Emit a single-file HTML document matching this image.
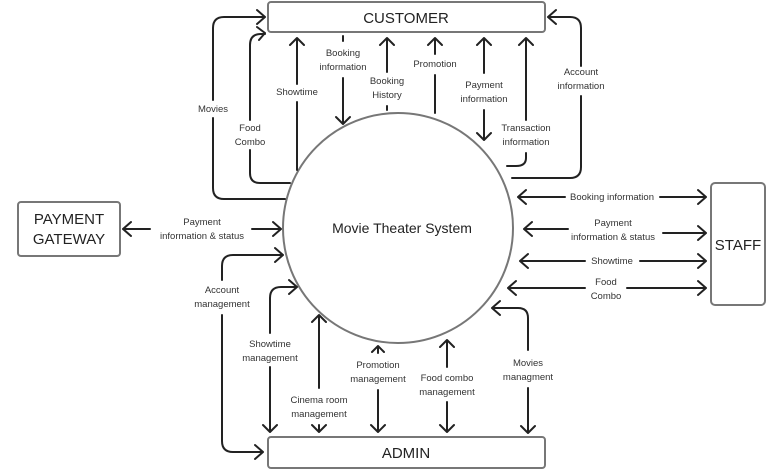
<!DOCTYPE html>
<html><head><meta charset="utf-8"><style>
html,body{margin:0;padding:0;background:#fff;}
svg{display:block;}
text{font-family:"Liberation Sans",sans-serif;fill:#333;}
.l{font-size:9.5px;text-anchor:middle;}
.t{font-size:15px;text-anchor:middle;fill:#222;}
.c{fill:none;stroke:#222;stroke-width:2;stroke-linecap:round;stroke-linejoin:round;}
.b{fill:#fff;stroke:#777;stroke-width:2;}
</style></head><body>
<svg width="772" height="473" viewBox="0 0 772 473">
<circle cx="398" cy="228" r="115" fill="none" stroke="#777" stroke-width="2"/>
<rect class="b" x="268" y="2" width="277" height="30" rx="3"/>
<text class="t" x="406" y="23">CUSTOMER</text>
<rect class="b" x="268" y="437" width="277" height="31" rx="3"/>
<text class="t" x="406" y="458">ADMIN</text>
<rect class="b" x="711" y="183" width="54" height="122" rx="4"/>
<text class="t" x="738" y="250">STAFF</text>
<rect class="b" x="18" y="202" width="102" height="54" rx="3"/>
<text class="t" x="69" y="224">PAYMENT</text>
<text class="t" x="69" y="244">GATEWAY</text>

<!-- top -->
<path class="c" d="M285 199 H224 Q213 199 213 188 V118 M213 100 V28 Q213 17 224 17 H265 M257 10 L265 17 L257 24"/>
<text class="l" x="213" y="112">Movies</text>
<path class="c" d="M290 183 H260 Q250 183 250 173 V150 M250 120 V45 Q250 34 261 34 H265 M257 27 L265 33 L259 40"/>
<text class="l" x="250" y="131">Food</text><text class="l" x="250" y="145">Combo</text>
<path class="c" d="M297 170 V102 M297 84 V38 M290 45 L297 38 L304 45"/>
<text class="l" x="297" y="95">Showtime</text>
<path class="c" d="M343 36 V41 M343 78 V124 M336 117 L343 124 L350 117"/>
<text class="l" x="343" y="56">Booking</text><text class="l" x="343" y="70">information</text>
<path class="c" d="M387 38 V72 M380 45 L387 38 L394 45 M387 106 V110"/>
<text class="l" x="387" y="84">Booking</text><text class="l" x="387" y="98">History</text>
<path class="c" d="M435 38 V54 M428 45 L435 38 L442 45 M435 75 V113"/>
<text class="l" x="435" y="67">Promotion</text>
<path class="c" d="M484 38 V73 M477 45 L484 38 L491 45 M484 110 V140 M477 133 L484 140 L491 133"/>
<text class="l" x="484" y="88">Payment</text><text class="l" x="484" y="102">information</text>
<path class="c" d="M526 38 V120 M519 45 L526 38 L533 45 M526 153 V158 Q526 166 516 166 H507"/>
<text class="l" x="526" y="131">Transaction</text><text class="l" x="526" y="145">information</text>
<path class="c" d="M512 178 H570 Q581 178 581 167 V96 M581 66 V28 Q581 17 570 17 H548 M556 10 L548 17 L556 24"/>
<text class="l" x="581" y="75">Account</text><text class="l" x="581" y="89">information</text>

<!-- right -->
<path class="c" d="M518 197 H565 M660 197 H706 M526 190 L518 197 L526 204 M698 190 L706 197 L698 204"/>
<text class="l" x="612" y="200">Booking information</text>
<path class="c" d="M524 229 H568 M663 233 H706 M532 222 L524 229 L532 236 M698 226 L706 233 L698 240"/>
<text class="l" x="613" y="226">Payment</text><text class="l" x="613" y="240">information &amp; status</text>
<path class="c" d="M520 261 H585 M640 261 H706 M528 254 L520 261 L528 268 M698 254 L706 261 L698 268"/>
<text class="l" x="612" y="264">Showtime</text>
<path class="c" d="M508 288 H585 M627 288 H706 M516 281 L508 288 L516 295 M698 281 L706 288 L698 295"/>
<text class="l" x="606" y="285">Food</text><text class="l" x="606" y="299">Combo</text>
<path class="c" d="M492 308 H518 Q528 308 528 318 V350 M528 388 V433 M521 426 L528 433 L535 426 M500 301 L492 308 L500 315"/>
<text class="l" x="528" y="366">Movies</text><text class="l" x="528" y="380">managment</text>

<!-- left -->
<path class="c" d="M123 229 H150 M252 229 H281 M131 222 L123 229 L131 236 M273 222 L281 229 L273 236"/>
<text class="l" x="202" y="225">Payment</text><text class="l" x="202" y="239">information &amp; status</text>
<path class="c" d="M283 255 H233 Q222 255 222 266 V280 M222 315 V441 Q222 452 233 452 H263 M255 445 L263 452 L255 459 M275 248 L283 255 L275 262"/>
<text class="l" x="222" y="293">Account</text><text class="l" x="222" y="307">management</text>
<path class="c" d="M297 287 H281 Q270 287 270 298 V333 M270 367 V432 M263 425 L270 432 L277 425 M289 280 L297 287 L289 294"/>
<text class="l" x="270" y="347">Showtime</text><text class="l" x="270" y="361">management</text>
<path class="c" d="M319 315 V388 M312 322 L319 315 L326 322 M319 425 V432 M312 425 L319 432 L326 425"/>
<text class="l" x="319" y="403">Cinema room</text><text class="l" x="319" y="417">management</text>
<path class="c" d="M378 346 V353 M372 352 L378 346 L384 352 M378 390 V432 M371 425 L378 432 L385 425"/>
<text class="l" x="378" y="368">Promotion</text><text class="l" x="378" y="382">management</text>
<path class="c" d="M447 340 V367 M440 347 L447 340 L454 347 M447 402 V432 M440 425 L447 432 L454 425"/>
<text class="l" x="447" y="381">Food combo</text><text class="l" x="447" y="395">management</text>

<text x="402" y="233" style="font-size:14px;text-anchor:middle;fill:#222;">Movie Theater System</text>
</svg>
</body></html>
